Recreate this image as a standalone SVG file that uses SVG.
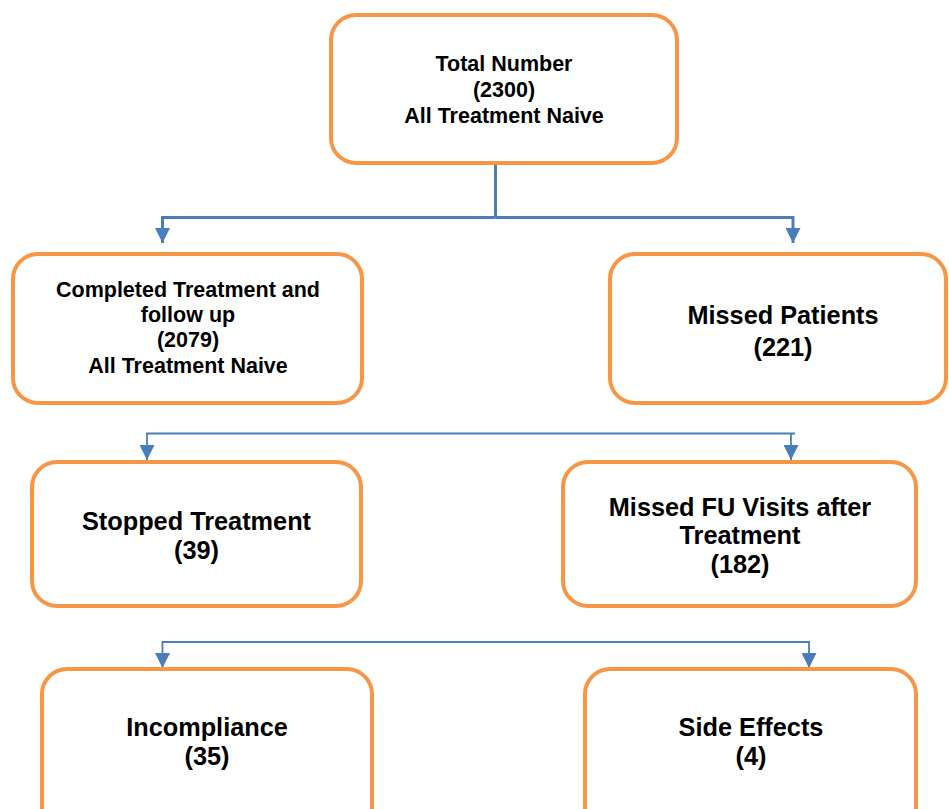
<svg xmlns="http://www.w3.org/2000/svg" width="949" height="809" viewBox="0 0 949 809">
<style>
.box{fill:#ffffff;stroke:#F79646;stroke-width:4}
.t{font-family:"Liberation Sans",Arial,sans-serif;font-weight:bold;fill:#000;text-anchor:middle}
.s{font-size:21.5px}
.l{font-size:25.3px}
.c1{fill:none;stroke:#4A7EBB;stroke-width:3}
.c2{fill:none;stroke:#4A7EBB;stroke-width:1.8}
</style>
<defs>
<marker id="ah" markerUnits="userSpaceOnUse" markerWidth="15" markerHeight="15" refX="15" refY="7.5" orient="auto" viewBox="0 0 15 15">
<path d="M0,0 L15,7.5 L0,15 z" fill="#4A7EBB"/>
</marker>
</defs>
<rect width="949" height="809" fill="#ffffff"/>
<g id="connectors">
<path class="c1" d="M495.5,165 V217.5"/>
<path class="c1" d="M495.5,217.5 H162.5 V243" marker-end="url(#ah)"/>
<path class="c1" d="M495.5,217.5 H793 V243" marker-end="url(#ah)"/>
<path class="c2" d="M795,433.5 H147 V460" marker-end="url(#ah)"/>
<path class="c2" d="M791,433.5 V460" marker-end="url(#ah)"/>
<path class="c2" d="M810,642 H162.5 V668" marker-end="url(#ah)"/>
<path class="c2" d="M809,642 V668" marker-end="url(#ah)"/>
</g>
<g id="total">
<rect class="box" x="331" y="15" width="346" height="148" rx="25"/>
<text class="t s" x="504" y="71">Total Number</text>
<text class="t s" x="504" y="97">(2300)</text>
<text class="t s" x="504" y="123">All Treatment Naive</text>
</g>
<g id="completed">
<rect class="box" x="13" y="254" width="349" height="149" rx="25"/>
<text class="t s" x="188" y="297">Completed Treatment and</text>
<text class="t s" x="188" y="322">follow up</text>
<text class="t s" x="188" y="347">(2079)</text>
<text class="t s" x="188" y="373">All Treatment Naive</text>
</g>
<g id="missed">
<rect class="box" x="610" y="254" width="336" height="149" rx="25"/>
<text class="t l" x="783" y="324">Missed Patients</text>
<text class="t l" x="783" y="356">(221)</text>
</g>
<g id="stopped">
<rect class="box" x="32" y="462" width="329" height="144" rx="25"/>
<text class="t l" x="196.5" y="530">Stopped Treatment</text>
<text class="t l" x="196.5" y="559">(39)</text>
</g>
<g id="missedfu">
<rect class="box" x="563" y="462" width="353" height="144" rx="25"/>
<text class="t l" x="740" y="516">Missed FU Visits after</text>
<text class="t l" x="740" y="544">Treatment</text>
<text class="t l" x="740" y="573">(182)</text>
</g>
<g id="incompliance">
<rect class="box" x="42" y="669" width="330" height="165" rx="25"/>
<text class="t l" x="207" y="736">Incompliance</text>
<text class="t l" x="207" y="765">(35)</text>
</g>
<g id="sideeffects">
<rect class="box" x="585" y="669" width="331" height="165" rx="25"/>
<text class="t l" x="751" y="736">Side Effects</text>
<text class="t l" x="751" y="765">(4)</text>
</g>
</svg>
